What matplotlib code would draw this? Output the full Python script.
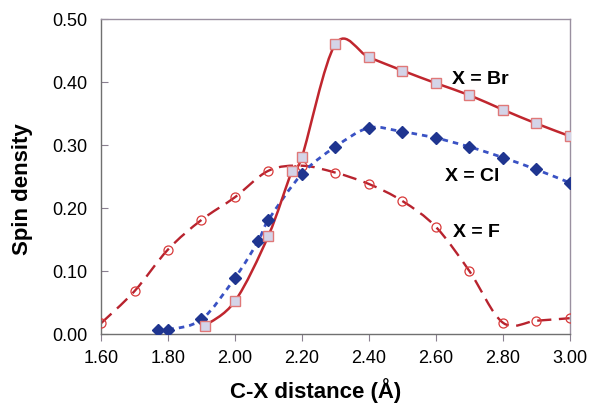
import numpy as np
import matplotlib.pyplot as plt
from matplotlib.path import Path
from matplotlib.patches import PathPatch

plt.rcParams['font.family'] = ['Liberation Sans', 'DejaVu Sans']

# spin density vs C-X distance
br_x = [1.91, 2.00, 2.10, 2.17, 2.20, 2.30, 2.40, 2.50, 2.60, 2.70, 2.80, 2.90, 3.00]
br_y = [0.013, 0.052, 0.156, 0.258, 0.281, 0.460, 0.439, 0.418, 0.398, 0.379, 0.356, 0.334, 0.314]

cl_x = [1.77, 1.80, 1.90, 2.00, 2.07, 2.10, 2.20, 2.30, 2.40, 2.50, 2.60, 2.70, 2.80, 2.90, 3.00]
cl_y = [0.007, 0.007, 0.023, 0.089, 0.148, 0.181, 0.254, 0.297, 0.327, 0.321, 0.311, 0.297, 0.280, 0.261, 0.240]

f_x = [1.60, 1.70, 1.80, 1.90, 2.00, 2.10, 2.20, 2.30, 2.40, 2.50, 2.60, 2.70, 2.80, 2.90, 3.00]
f_y = [0.017, 0.068, 0.134, 0.181, 0.217, 0.259, 0.267, 0.256, 0.238, 0.211, 0.170, 0.100, 0.018, 0.021, 0.025]


def smooth_path(xs, ys):
    # excel style smoothed line: bezier segments with catmull-rom control points
    p = np.column_stack([xs, ys])
    n = len(p)
    verts = [p[0]]
    codes = [Path.MOVETO]
    for i in range(n - 1):
        p0 = p[i - 1] if i > 0 else p[i]
        p3 = p[i + 2] if i + 2 < n else p[i + 1]
        c1 = p[i] + (p[i + 1] - p0) / 6.0
        c2 = p[i + 1] - (p3 - p[i]) / 6.0
        verts += [c1, c2, p[i + 1]]
        codes += [Path.CURVE4] * 3
    return Path(verts, codes)


fig, ax = plt.subplots(figsize=(5.91, 4.06), dpi=100)
fig.subplots_adjust(left=0.171, right=0.964, top=0.951, bottom=0.175)

ax.add_patch(PathPatch(smooth_path(f_x, f_y), fill=False, edgecolor='#b8232e',
                       lw=1.7, linestyle=(0, (6, 3.2)), zorder=2))
ax.add_patch(PathPatch(smooth_path(cl_x, cl_y), fill=False, edgecolor='#3a52c4',
                       lw=2.0, linestyle=(0, (2, 1.8)), zorder=2))
ax.add_patch(PathPatch(smooth_path(br_x, br_y), fill=False, edgecolor='#c0262e',
                       lw=1.8, zorder=2))

ax.plot(f_x, f_y, 'o', ms=6.5, mfc='none', mec='#d83a3a', mew=0.9, zorder=3)
ax.plot(cl_x, cl_y, 'D', ms=6, mfc='#1f3590', mec='#1f3590', zorder=3)
ax.plot(br_x, br_y, 's', ms=6.8, mfc='#d4d4e8', mec='#e07878', mew=1.0, zorder=4)

ax.text(2.648, 0.405, 'X = Br', fontsize=14, fontweight='bold', va='center')
ax.text(2.627, 0.252, 'X = Cl', fontsize=14, fontweight='bold', va='center')
ax.text(2.651, 0.163, 'X = F', fontsize=14, fontweight='bold', va='center')

ax.set_xlim(1.6, 3.0)
ax.set_ylim(0.0, 0.5)
ax.set_xticks(np.arange(1.6, 3.01, 0.2))
ax.set_yticks(np.arange(0.0, 0.51, 0.1))
ax.xaxis.set_major_formatter(plt.FormatStrFormatter('%.2f'))
ax.yaxis.set_major_formatter(plt.FormatStrFormatter('%.2f'))
ax.tick_params(axis='x', direction='out', length=5, labelsize=13, color='#8a8090', pad=6)
ax.tick_params(axis='y', direction='in', length=5, labelsize=13, color='#8a8090', pad=10)
for s in ax.spines.values():
    s.set_color('#9a90a0')
    s.set_linewidth(1.0)
ax.spines['bottom'].set_color('#707070')
ax.spines['left'].set_color('#707070')

ax.set_xlabel('C-X distance (Å)', fontsize=16, fontweight='bold')
ax.set_ylabel('Spin density', fontsize=16, fontweight='bold')
ax.xaxis.set_label_coords(0.458, -0.138)
ax.yaxis.set_label_coords(-0.145, 0.463)

fig.savefig('out.png', dpi=100)
